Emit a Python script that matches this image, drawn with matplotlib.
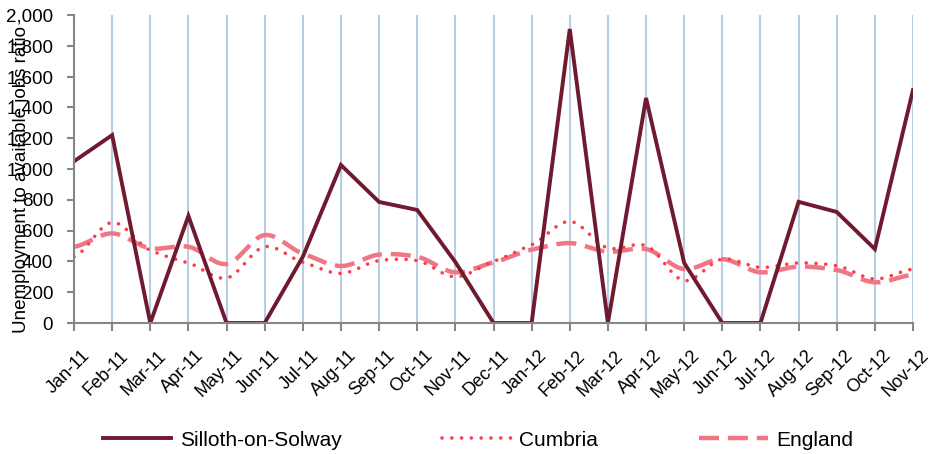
import numpy as np
import matplotlib
matplotlib.use("Agg")
import matplotlib.pyplot as plt
import matplotlib.transforms as mtransforms

months = ["Jan-11", "Feb-11", "Mar-11", "Apr-11", "May-11", "Jun-11", "Jul-11", "Aug-11",
          "Sep-11", "Oct-11", "Nov-11", "Dec-11", "Jan-12", "Feb-12", "Mar-12", "Apr-12",
          "May-12", "Jun-12", "Jul-12", "Aug-12", "Sep-12", "Oct-12", "Nov-12"]
silloth = [1050, 1220, 0, 695, 0, 0, 430, 1026, 786, 734, 396, 0, 0, 1909, 0, 1461,
           390, 0, 0, 787, 721, 480, 1513]
cumbria = [430, 653, 472, 390, 292, 495, 395, 322, 405, 405, 300, 400, 508, 660, 487, 502,
           275, 415, 361, 390, 372, 286, 350]
england = [495, 582, 485, 495, 383, 571, 451, 370, 444, 430, 329, 394, 476, 519, 463, 480,
           350, 415, 329, 366, 344, 264, 313]

plt.rcParams['font.family'] = ['Liberation Sans', 'DejaVu Sans']


def smooth(y, n=20, tension=0.8):
    # Cardinal spline through the data points (Excel-like smoothed line)
    y = np.asarray(y, dtype=float)
    x = np.arange(len(y), dtype=float)
    xs, ys = [], []
    for i in range(len(y) - 1):
        p0 = y[i - 1] if i > 0 else y[i]
        p1, p2 = y[i], y[i + 1]
        p3 = y[i + 2] if i + 2 < len(y) else y[i + 1]
        m1 = tension * (p2 - p0) / 2
        m2 = tension * (p3 - p1) / 2
        t = np.linspace(0, 1, n, endpoint=False)
        h00 = 2 * t ** 3 - 3 * t ** 2 + 1
        h10 = t ** 3 - 2 * t ** 2 + t
        h01 = -2 * t ** 3 + 3 * t ** 2
        h11 = t ** 3 - t ** 2
        yy = h00 * p1 + h10 * m1 + h01 * p2 + h11 * m2
        xs.extend(x[i] + t)
        ys.extend(yy)
    xs.append(x[-1])
    ys.append(y[-1])
    return np.array(xs), np.array(ys)


fig = plt.figure(figsize=(9.32, 4.54), dpi=100)
ax = fig.add_axes([74 / 932, 1 - 323 / 454, (913 - 74) / 932, (323 - 15) / 454])

x = np.arange(len(months))
grid_c = "#b9cde5"
for xi in x[1:]:
    ax.axvline(xi, color=grid_c, lw=1.5, zorder=0)

xe, ye = smooth(england)
ax.plot(xe, ye, color="#f07585", lw=3.2, dashes=(4.5, 2.0), label="England", zorder=2)
xc, yc = smooth(cumbria)
ax.plot(xc, yc, color="#ff3b4a", lw=2.6, linestyle=(0, (0.01, 2.7)),
        dash_capstyle='round', solid_capstyle='round', label="Cumbria", zorder=3)
ax.plot(x, silloth, color="#701a30", lw=2.8, label="Silloth-on-Solway", zorder=4,
        solid_joinstyle='miter')

ax.set_xlim(0, len(months) - 1)
ax.set_ylim(0, 2000)
ax.set_yticks(np.arange(0, 2001, 200))
ax.set_yticklabels([f"{v:,}" for v in range(0, 2001, 200)], fontsize=13.5)
ax.set_xticks(x)

for s in ["top", "right"]:
    ax.spines[s].set_visible(False)
for s in ["left", "bottom"]:
    ax.spines[s].set_color("#868686")
    ax.spines[s].set_linewidth(1.5)
    ax.spines[s].set_zorder(5)
ax.tick_params(axis='y', length=5, width=1.5, color="#868686", pad=10)
ax.tick_params(axis='x', length=6, width=1.5, color="#868686", pad=2)

ax.set_xticklabels(months, fontsize=13, rotation=45, ha='right', va='center',
                   rotation_mode='anchor')
offset = mtransforms.ScaledTranslation(13 / 100, -19 / 100, fig.dpi_scale_trans)
for lab in ax.get_xticklabels():
    lab.set_transform(lab.get_transform() + offset)

ax.set_ylabel("Unemployment to available jobs ratio", fontsize=13.5)
ax.yaxis.set_label_coords(-0.052, 0.465)

handles, labels = ax.get_legend_handles_labels()
order = [2, 1, 0]
fig.legend([handles[i] for i in order], [labels[i] for i in order],
           loc='center', bbox_to_anchor=(478 / 932, 1 - 440 / 454), ncol=3,
           frameon=False, fontsize=15, handlelength=3.3, handletextpad=0.4,
           columnspacing=4.85)

fig.savefig("out.png", dpi=100)
